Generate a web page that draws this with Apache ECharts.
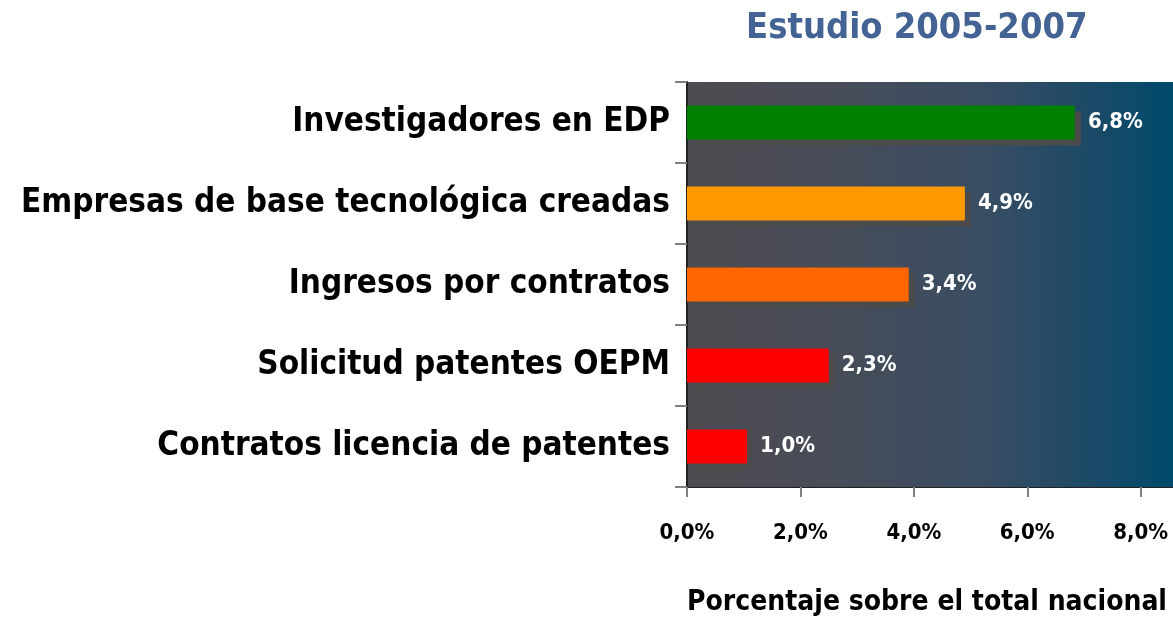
<!DOCTYPE html>
<html>
<head>
<meta charset="utf-8">
<script src="https://cdn.jsdelivr.net/npm/echarts@6/dist/echarts.min.js"></script>
<style>
  html, body { margin: 0; padding: 0; background: #fff; }
  #chart { width: 1173px; height: 620px; }
</style>
</head>
<body>
<div id="chart"></div>
<script>
const categories = [
  'Investigadores en EDP',
  'Empresas de base tecnológica creadas',
  'Ingresos por contratos',
  'Solicitud patentes OEPM',
  'Contratos licencia de patentes'
];
// bar lengths as drawn in the picture
const values = [6.84, 4.9, 3.91, 2.5, 1.06];
// label text printed beside each bar
const valueLabels = ['6,8%', '4,9%', '3,4%', '2,3%', '1,0%'];
const barColors = ['#008000', '#FF9900', '#FF6600', '#FF0000', '#FF0000'];
const xTicks = [0, 2, 4, 6, 8];

const narrow = "'Liberation Sans Narrow', 'Arial Narrow', 'DejaVu Sans Condensed', sans-serif";

var chart = echarts.init(document.getElementById('chart'));

const option = {
  animation: false,
  title: [
    {
      text: 'Estudio 2005-2007',
      left: 741,
      top: 6,
      textStyle: { fontFamily: narrow, fontSize: 36, fontWeight: 'bold', color: '#426393' }
    },
    {
      text: 'Porcentaje sobre el total nacional',
      right: 1,
      top: 584,
      textStyle: { fontFamily: narrow, fontSize: 28, fontWeight: 'bold', color: '#000' }
    }
  ],
  grid: {
    left: 687, right: 0, top: 82, bottom: 133,
    show: true,
    borderWidth: 0,
    backgroundColor: new echarts.graphic.LinearGradient(0, 0, 1, 0, [
      { offset: 0, color: '#4e4b50' },
      { offset: 0.3, color: '#474c58' },
      { offset: 0.6, color: '#3a4d63' },
      { offset: 0.82, color: '#1d4a66' },
      { offset: 1, color: '#004a6c' }
    ])
  },
  xAxis: {
    type: 'value',
    min: 0,
    max: 8.57,
    interval: 2,
    splitLine: { show: false },
    axisLine: { show: true, lineStyle: { color: '#222', width: 1 } },
    axisTick: { show: true, length: 10, customValues: xTicks, lineStyle: { color: '#808080', width: 2 } },
    axisLabel: {
      customValues: xTicks,
      margin: 35,
      fontFamily: narrow, fontSize: 22, fontWeight: 'bold', color: '#000',
      formatter: v => v.toFixed(1).replace('.', ',') + '%'
    }
  },
  yAxis: {
    type: 'category',
    data: categories,
    inverse: true,
    axisLine: { show: true, lineStyle: { color: '#222', width: 2 } },
    axisTick: { show: true, length: 12, lineStyle: { color: '#808080', width: 2 } },
    axisLabel: {
      margin: 17,
      fontFamily: narrow, fontSize: 33, fontWeight: 'bold', color: '#000'
    }
  },
  series: [
    {
      type: 'bar',
      barWidth: 34,
      data: values.map((v, i) => ({ value: v, itemStyle: { color: barColors[i] } })),
      itemStyle: {
        shadowColor: '#4b4b4b',
        shadowBlur: 0,
        shadowOffsetX: 6,
        shadowOffsetY: 6
      },
      label: {
        show: true,
        position: 'right',
        distance: 13,
        fontFamily: narrow, fontSize: 22, fontWeight: 'bold', color: '#fff',
        formatter: p => valueLabels[p.dataIndex]
      }
    }
  ]
};

chart.setOption(option);
</script>
</body>
</html>
